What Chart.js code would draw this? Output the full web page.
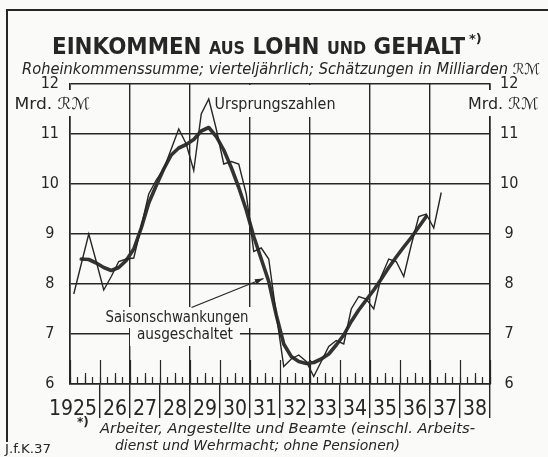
<!DOCTYPE html>
<html><head><meta charset="utf-8">
<script src="https://cdn.jsdelivr.net/npm/chart.js@4/dist/chart.umd.min.js"></script>
<style>html,body{margin:0;padding:0;background:#fafaf8;}canvas{display:block}</style>
</head><body>
<canvas id="c" width="548" height="457"></canvas>
<script>
// ---- data ----
const years = ['1925','26','27','28','29','30','31','32','33','34','35','36','37','38'];
// Ursprungszahlen, quarterly from 1925 Q1 (Mrd. RM)
const rawValues = [
  7.8, 8.4, 9.0, 8.45,
  7.88, 8.15, 8.45, 8.5,
  8.52, 9.15, 9.8, 10.08,
  10.3, 10.7, 11.1, 10.8,
  10.27, 11.4, 11.7, 11.1,
  10.4, 10.45, 10.4, 9.8,
  8.65, 8.72, 8.5, 7.4,
  6.35, 6.5, 6.58, 6.45,
  6.15, 6.45, 6.75, 6.87,
  6.8, 7.5, 7.75, 7.7,
  7.5, 8.15, 8.5, 8.45,
  8.15, 8.78, 9.35, 9.4,
  9.12, 9.83
];
// Saisonschwankungen ausgeschaltet, quarterly from 1925 Q2
const adjFirstQuarter = 1;
const adjValues = [
  8.5, 8.49, 8.42,
  8.33, 8.27, 8.33, 8.47,
  8.7, 9.12, 9.62, 9.97,
  10.3, 10.58, 10.72, 10.79,
  10.89, 11.06, 11.13, 10.95,
  10.68, 10.33, 9.93, 9.48,
  8.95, 8.5, 8.05, 7.38,
  6.8, 6.55, 6.45, 6.41,
  6.43, 6.5, 6.6, 6.78,
  6.98, 7.25, 7.48, 7.68,
  7.88, 8.1, 8.33, 8.54,
  8.74, 8.93, 9.14, 9.35
];
const yMin = 6, yMax = 12;
const unitLabel = 'Mrd. \u211B\u2133';

// ---- styling ----
const INK = '#262626';
const FONT = "'DejaVu Sans', sans-serif";
const COND = "'DejaVu Sans Condensed', 'DejaVu Sans', sans-serif";
const NARROW = "'Liberation Sans Narrow', 'DejaVu Sans Condensed', sans-serif";
const nQuarters = years.length * 4;

const rawPoints = rawValues.map((v, i) => ({x: i + 0.5, y: v}));
const adjPoints = adjValues.map((v, i) => ({x: adjFirstQuarter + i + 0.5, y: v}));

function yearLabel(value) {
  const k = (value - 2) / 4;
  if (Number.isInteger(k) && k >= 0 && k < years.length) return k === 0 ? years[0] + '    ' : years[k];
  return '';
}
function setTicks(step, filter) {
  return (scale) => {
    const t = [];
    for (let v = 0; v <= nQuarters; v += step) if (!filter || filter(v)) t.push({value: v});
    scale.ticks = t;
  };
}
function markAxis(step, len, filter) {
  return {
    type: 'linear', min: 0, max: nQuarters, position: {y: yMin},
    afterBuildTicks: setTicks(step, filter),
    ticks: {display: false}, border: {display: false},
    grid: {drawOnChartArea: false, drawTicks: true, tickLength: len, tickColor: INK, tickWidth: 1.2}
  };
}
function fitText(ctx, txt, x, base, w, font, align) {
  ctx.save();
  ctx.font = font;
  const m = ctx.measureText(txt).width;
  ctx.translate(x, base);
  ctx.scale(w / m, 1);
  ctx.textAlign = align || 'center';
  ctx.textBaseline = 'alphabetic';
  ctx.fillText(txt, 0, 0);
  ctx.restore();
}
function whiteBox(ctx, x0, y0, x1, y1) {
  ctx.save(); ctx.fillStyle = '#fafaf8'; ctx.fillRect(x0, y0, x1 - x0, y1 - y0); ctx.restore();
}

const deco = {
  id: 'deco',
  beforeDatasetsDraw(chart) {
    const {ctx} = chart;
    const x = chart.scales.x, y = chart.scales.y;
    ctx.save();
    ctx.fillStyle = INK;
    // Ursprungszahlen
    let cx = x.getPixelForValue(27.33), by = y.getPixelForValue(11.5);
    whiteBox(ctx, cx - 63, y.getPixelForValue(11.98), cx + 63, by + 8);
    fitText(ctx, 'Ursprungszahlen', cx, by, 121, `15px ${FONT}`);
    // Saisonschwankungen ausgeschaltet
    cx = x.getPixelForValue(14.27); by = y.getPixelForValue(7.24);
    whiteBox(ctx, cx - 75, by - 15, cx + 75, by + 6);
    fitText(ctx, 'Saisonschwankungen', cx, by, 143, `15px ${FONT}`);
    cx = x.getPixelForValue(15.33); by = y.getPixelForValue(6.9);
    whiteBox(ctx, cx - 55, by - 12, cx + 55, by + 7);
    fitText(ctx, 'ausgeschaltet', cx, by, 96, `15px ${FONT}`);
    // arrow
    const ax0 = x.getPixelForValue(16.2), ay0 = y.getPixelForValue(7.53);
    const ax1 = x.getPixelForValue(25.8), ay1 = y.getPixelForValue(8.11);
    ctx.strokeStyle = INK; ctx.lineWidth = 1.3;
    ctx.beginPath(); ctx.moveTo(ax0, ay0); ctx.lineTo(ax1, ay1); ctx.stroke();
    const ang = Math.atan2(ay1 - ay0, ax1 - ax0);
    ctx.beginPath();
    ctx.moveTo(ax1, ay1);
    ctx.lineTo(ax1 - 9 * Math.cos(ang - 0.3), ay1 - 9 * Math.sin(ang - 0.3));
    ctx.lineTo(ax1 - 9 * Math.cos(ang + 0.3), ay1 - 9 * Math.sin(ang + 0.3));
    ctx.closePath(); ctx.fill();
    ctx.restore();
  },
  afterDraw(chart) {
    const {ctx} = chart;
    ctx.save();
    ctx.fillStyle = INK;
    ctx.strokeStyle = INK;
    // frame
    ctx.lineWidth = 2;
    ctx.beginPath(); ctx.moveTo(7, 442); ctx.lineTo(7, 10); ctx.lineTo(548, 10); ctx.stroke();
    // title
    const big = `bold 23px ${FONT}`, small = `bold 17px ${FONT}`;
    const segs = [['EINKOMMEN ', big], ['AUS', small], [' LOHN ', big], ['UND', small], [' GEHALT', big]];
    let total = 0;
    segs.forEach(s => { ctx.font = s[1]; s.w = ctx.measureText(s[0]).width; total += s.w; });
    ctx.save();
    ctx.translate(52, 54); ctx.scale(413 / total, 1);
    ctx.textAlign = 'left'; ctx.textBaseline = 'alphabetic';
    let xx = 0;
    segs.forEach(s => { ctx.font = s[1]; ctx.fillText(s[0], xx, 0); xx += s.w; });
    ctx.restore();
    ctx.font = `bold 13px ${FONT}`; ctx.textAlign = 'left';
    ctx.fillText('*)', 469, 43);
    // subtitle
    fitText(ctx, 'Roheinkommenssumme; vierteljährlich; Schätzungen in Milliarden \u211B\u2133',
      22, 74, 518, `italic 15px ${FONT}`, 'left');
    // unit labels
    const y = chart.scales.y;
    const uy = y.getPixelForValue(11.62);
    whiteBox(ctx, 12, uy - 13, 94, uy + 13);
    whiteBox(ctx, 466, uy - 13, 542, uy + 13);
    fitText(ctx, unitLabel, 52, uy + 6, 75, `16px ${COND}`);
    fitText(ctx, unitLabel, 503, uy + 6, 70, `16px ${COND}`);
    // footnote
    ctx.font = `bold 12px ${FONT}`; ctx.textAlign = 'left';
    ctx.fillText('*)', 77, 426);
    fitText(ctx, 'Arbeiter, Angestellte und Beamte (einschl. Arbeits-', 100, 433, 375, `italic 14px ${FONT}`, 'left');
    fitText(ctx, 'dienst und Wehrmacht; ohne Pensionen)', 115, 450, 285, `italic 14px ${FONT}`, 'left');
    fitText(ctx, 'J.f.K.37', 5, 453, 46, `12px ${COND}`, 'left');
    ctx.restore();
  }
};

new Chart(document.getElementById('c'), {
  type: 'line',
  data: {
    datasets: [
      {label: 'Ursprungszahlen', data: rawPoints, xAxisID: 'x', yAxisID: 'y',
       borderColor: INK, borderWidth: 1.4, pointRadius: 0, tension: 0, fill: false},
      {label: 'Saisonschwankungen ausgeschaltet', data: adjPoints, xAxisID: 'x', yAxisID: 'y',
       borderColor: '#333333', borderWidth: 3.6, pointRadius: 0, tension: 0, fill: false,
       borderJoinStyle: 'round', borderCapStyle: 'round'}
    ]
  },
  options: {
    responsive: false, animation: false, devicePixelRatio: 1,
    layout: {padding: {top: 84, left: 0, right: 0, bottom: 0}},
    plugins: {legend: {display: false}, tooltip: {enabled: false}},
    scales: {
      x: {
        type: 'linear', min: 0, max: nQuarters, position: 'bottom',
        afterBuildTicks: setTicks(2),
        afterFit: (s) => { s.height = 73; },
        border: {display: true, color: INK, width: 1.6},
        grid: {
          drawOnChartArea: true, drawTicks: true, tickLength: 34,
          color: (c) => (c.tick && c.tick.value % 8 === 0) ? INK : 'rgba(0,0,0,0)',
          lineWidth: 1.4,
          tickColor: (c) => (c.tick && c.tick.value % 4 === 0 && c.tick.value > 0) ? INK : 'rgba(0,0,0,0)',
          tickWidth: 1.4
        },
        ticks: {
          autoSkip: false, maxRotation: 0, minRotation: 0, padding: -21,
          color: INK, font: {family: NARROW, size: 21},
          callback: (v) => yearLabel(v)
        }
      },
      xq: markAxis(1, -7),
      xh: markAxis(2, -11, (v) => v % 4 === 2),
      xy: markAxis(4, -24),
      y: {
        type: 'linear', min: yMin, max: yMax, position: 'left',
        afterFit: (s) => { s.width = 70; },
        border: {display: true, color: INK, width: 1.6},
        grid: {color: INK, lineWidth: 1.4, drawTicks: false},
        ticks: {stepSize: 1, crossAlign: 'center', padding: 11, color: INK,
                font: {family: COND, size: 16}}
      },
      y2: {
        type: 'linear', min: yMin, max: yMax, position: 'right',
        afterFit: (s) => { s.width = 58; },
        border: {display: true, color: INK, width: 1.6},
        grid: {drawOnChartArea: false, drawTicks: false},
        ticks: {stepSize: 1, crossAlign: 'center', padding: 10, color: INK,
                font: {family: COND, size: 16}}
      }
    }
  },
  plugins: [deco]
});
</script>
</body></html>
